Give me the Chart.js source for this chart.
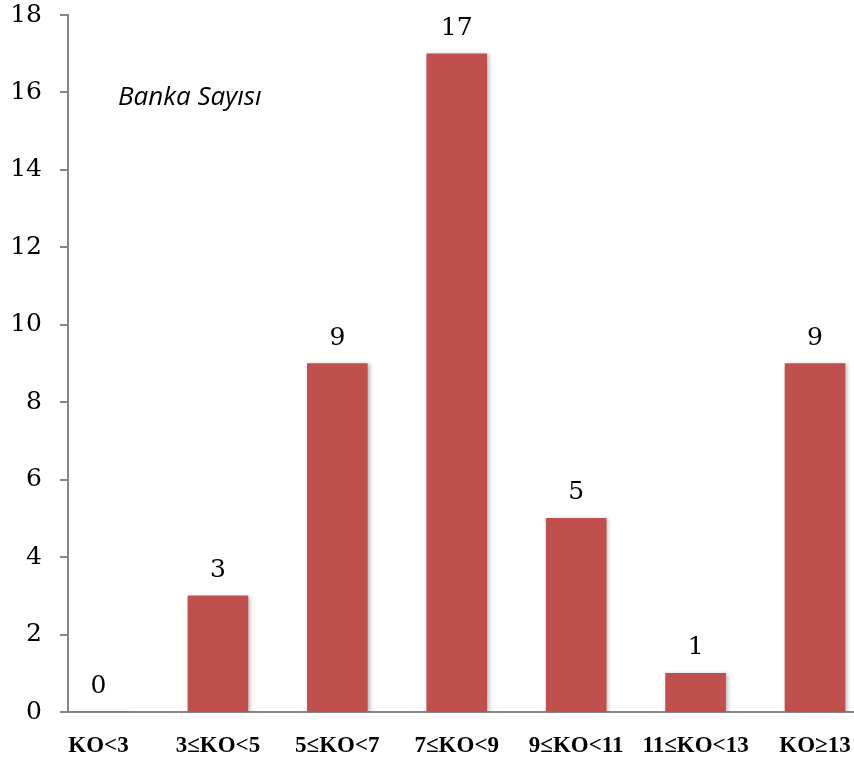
<!DOCTYPE html>
<html>
<head>
<meta charset="utf-8">
<script src="https://cdn.jsdelivr.net/npm/chart.js@4/dist/chart.umd.min.js"></script>
<style>
  html, body { margin: 0; padding: 0; background: #ffffff; }
  #wrap { width: 854px; height: 758px; position: relative; }
</style>
</head>
<body>
<div id="wrap"><canvas id="c" width="854" height="758"></canvas></div>
<script>
const categories = ["KO<3", "3≤KO<5", "5≤KO<7", "7≤KO<9", "9≤KO<11", "11≤KO<13", "KO≥13"];
const bankCounts = [0, 3, 9, 17, 5, 1, 9];
const yTicks = [0, 2, 4, 6, 8, 10, 12, 14, 16, 18];
const seriesTitle = "Banka Sayısı";

const AXIS = "#868686";
const BAR = "#C0504D";

const barPlugin = {
  id: "barDecor",
  beforeDatasetsDraw(chart) {
    const ctx = chart.ctx;
    ctx.save();
    ctx.shadowColor = "rgba(0,0,0,0.28)";
    ctx.shadowBlur = 4;
    ctx.shadowOffsetX = 2;
    ctx.shadowOffsetY = 1;
  },
  afterDatasetsDraw(chart) {
    const ctx = chart.ctx;
    ctx.restore();
    const meta = chart.getDatasetMeta(0);
    ctx.save();
    ctx.fillStyle = "#000";
    ctx.font = "25px 'DejaVu Serif'";
    ctx.textAlign = "center";
    ctx.textBaseline = "alphabetic";
    meta.data.forEach((el, i) => {
      ctx.fillText(String(bankCounts[i]), el.x, el.y - 19);
    });
    ctx.font = "italic 26px 'Open Sans'";
    ctx.textAlign = "left";
    ctx.fillText(seriesTitle, 118, 105);
    ctx.restore();
  }
};

new Chart(document.getElementById("c"), {
  type: "bar",
  data: {
    datasets: [{
      data: bankCounts.map((v, i) => ({ x: i, y: v })),
      backgroundColor: BAR,
      borderWidth: 0,
      barThickness: 60
    }]
  },
  options: {
    responsive: false,
    animation: false,
    devicePixelRatio: 1,
    layout: { padding: { left: 0, right: 0, top: 15, bottom: 0 } },
    plugins: { legend: { display: false }, tooltip: { enabled: false }, title: { display: false } },
    scales: {
      x: {
        type: "linear",
        offset: false,
        min: -0.2554,
        max: 6.3266,
        afterBuildTicks(scale) { scale.ticks = categories.map((_, i) => ({ value: i })); },
        afterFit(scale) { scale.height = 46; scale.paddingLeft = 0; scale.paddingRight = 0; },
        grid: { display: false, offset: false },
        border: { display: true, color: AXIS, width: 2 },
        ticks: {
          autoSkip: false,
          maxRotation: 0,
          padding: 12,
          color: "#000",
          font: { family: "'Liberation Serif'", size: 23, weight: "bold" },
          callback: (v) => categories[v] !== undefined ? categories[v] : ""
        }
      },
      y: {
        min: 0,
        max: 18,
        afterBuildTicks(scale) { scale.ticks = yTicks.map(v => ({ value: v })); },
        afterFit(scale) { scale.width = 68; scale.paddingTop = 0; scale.paddingBottom = 0; },
        grid: { display: true, drawOnChartArea: false, drawTicks: true, tickLength: 8, color: AXIS, tickColor: AXIS, lineWidth: 2 },
        border: { display: true, color: AXIS, width: 2 },
        ticks: {
          padding: 18,
          color: "#000",
          font: { family: "'DejaVu Serif'", size: 25 }
        }
      }
    }
  },
  plugins: [barPlugin]
});
</script>
</body>
</html>
